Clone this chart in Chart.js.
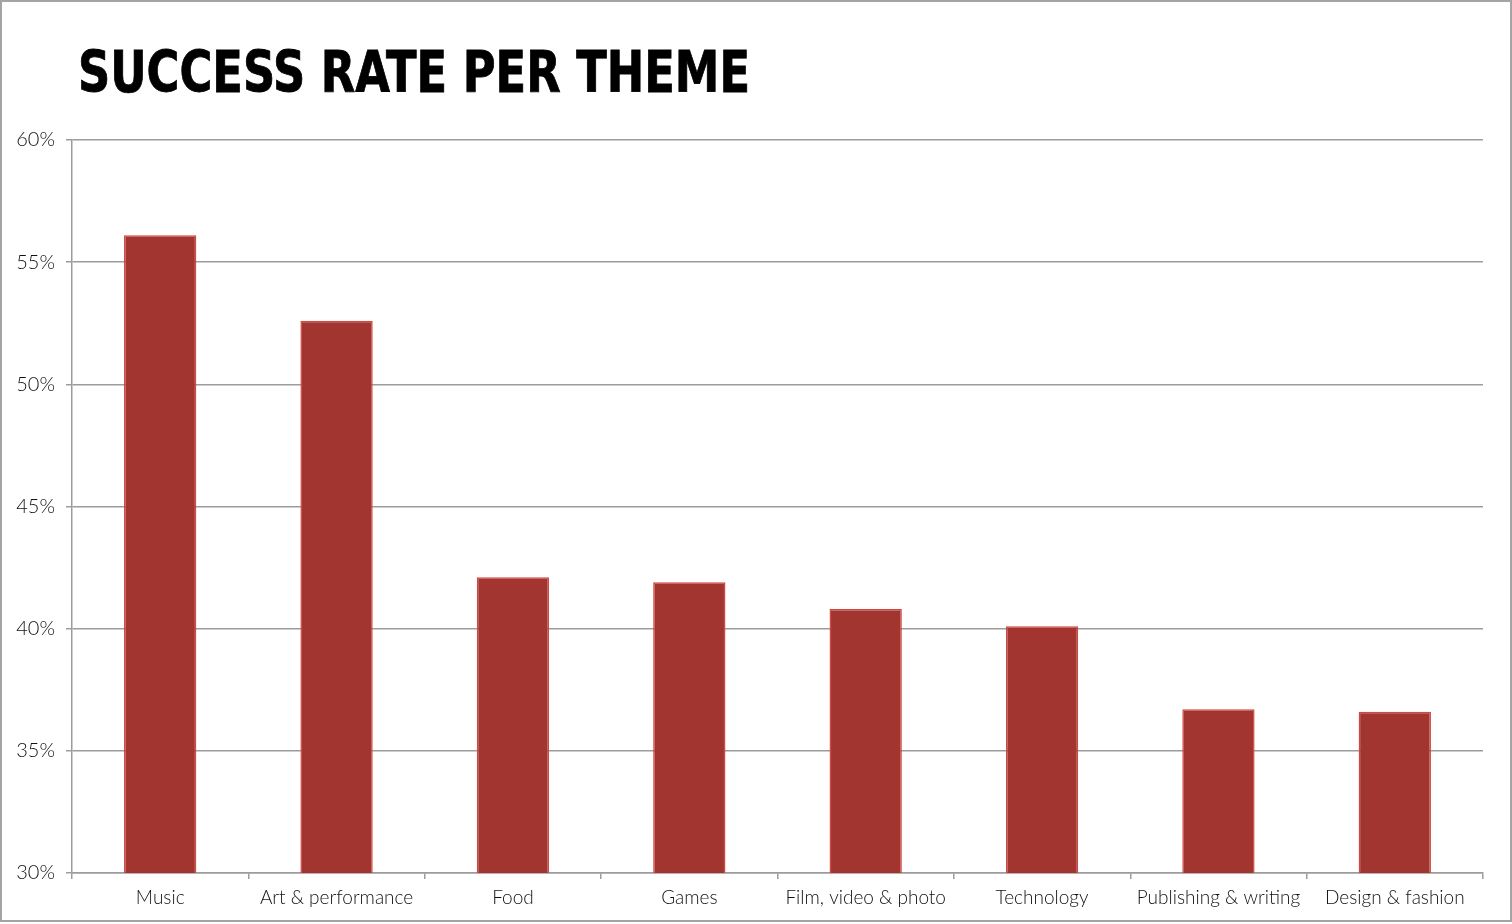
<!DOCTYPE html>
<html>
<head>
<meta charset="utf-8">
<script src="https://cdn.jsdelivr.net/npm/chart.js@4.4.1/dist/chart.umd.min.js"></script>
<style>
    html, body { margin: 0; padding: 0; background: #fff; }
    #frame {
        position: absolute; left: 0; top: 0;
        width: 1508px; height: 918px;
        border: 2px solid #a4a4a4;
    }
    #title {
        position: absolute; left: 78px; top: 37px;
        margin: 0;
        font-family: 'DejaVu Sans Condensed', 'DejaVu Sans', sans-serif;
        font-weight: bold;
        font-size: 57px;
        line-height: 70px;
        color: #000;
        white-space: nowrap;
        transform-origin: 0 0;
        -webkit-text-stroke: 0.8px #000;
    }
    #wrap { position: absolute; left: 0; top: 0; width: 1512px; height: 924px; }
</style>
</head>
<body>
<div id="frame"></div>
<div id="wrap"><canvas id="chart"></canvas></div>
<h1 id="title">SUCCESS RATE PER THEME</h1>
<script>
const THEMES = ['Music', 'Art & performance', 'Food', 'Games', 'Film, video & photo', 'Technology', 'Publishing & writing', 'Design & fashion'];
const SUCCESS_RATE = [56.1, 52.6, 42.1, 41.9, 40.8, 40.1, 36.7, 36.6];
const Y_MIN = 30;
const Y_MAX = 60;
const Y_STEP = 5;

const GRID = '#9c9c9c';
const TICK_FONT = { family: 'Lato, "Open Sans", sans-serif', size: 19, weight: '300' };

// squeeze title to the width it has in the reference
const title = document.getElementById('title');
const w = title.getBoundingClientRect().width;
title.style.transform = `scaleX(${672 / w})`;

new Chart(document.getElementById('chart'), {
    type: 'bar',
    data: {
        labels: THEMES,
        datasets: [{
            data: SUCCESS_RATE,
            backgroundColor: '#a33530',
            borderColor: '#cf4a43',
            borderWidth: 1.5,
            barPercentage: 0.41,
            categoryPercentage: 1,
        }],
    },
    options: {
        responsive: true,
        maintainAspectRatio: false,
        animation: false,
        layout: { padding: { top: 140, right: 29, bottom: 6, left: 10 } },
        plugins: {
            legend: { display: false },
            tooltip: { enabled: false },
        },
        scales: {
            x: {
                grid: { offset: true, drawOnChartArea: false, color: GRID, lineWidth: 1.5, tickLength: 6 },
                border: { color: GRID, width: 1.5 },
                ticks: { color: '#111', font: TICK_FONT, padding: 7, maxRotation: 0, autoSkip: false },
                afterFit: (scale) => { scale.height = 45; },
            },
            y: {
                min: Y_MIN,
                max: Y_MAX,
                grid: { color: GRID, lineWidth: 1.5, tickLength: 6 },
                border: { color: GRID, width: 1.5 },
                ticks: {
                    stepSize: Y_STEP,
                    color: '#111',
                    font: { ...TICK_FONT, size: 20 },
                    padding: 11,
                    callback: (v) => `${v}%`,
                },
                afterFit: (scale) => { scale.width = 62; },
            },
        },
    },
});
</script>
</body>
</html>
